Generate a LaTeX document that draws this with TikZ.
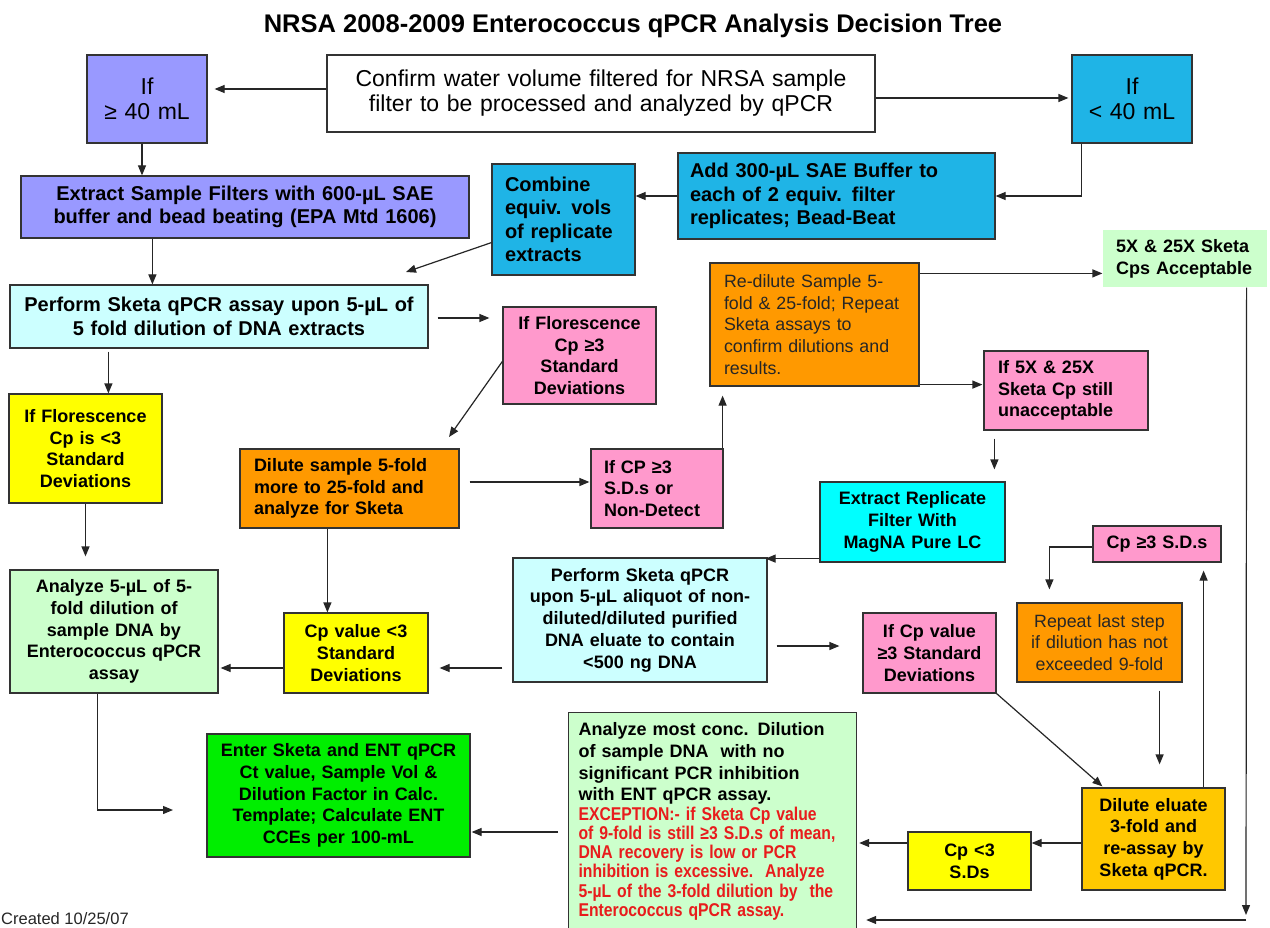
\documentclass[tikz,border=0pt]{standalone}
\usepackage{fontspec}
\setmainfont{Liberation Sans}
\newfontfamily\narrowf{Liberation Sans}[FakeStretch=0.85]
\usetikzlibrary{arrows.meta}
\definecolor{peri}{HTML}{9999FF}
\definecolor{sky}{HTML}{1FB4E6}
\definecolor{lcyan}{HTML}{CCFFFF}
\definecolor{pinkbox}{HTML}{FF99CC}
\definecolor{yel}{HTML}{FFFF00}
\definecolor{org}{HTML}{FF9900}
\definecolor{gold}{HTML}{FFC800}
\definecolor{lgreen}{HTML}{CCFFCC}
\definecolor{grn}{HTML}{00EE00}
\definecolor{cyn}{HTML}{00FFFF}
\definecolor{redtxt}{HTML}{E81C1C}
\definecolor{edge}{HTML}{333333}
\newcommand\mkbox[8]{%
 \pgfmathsetmacro\mkW{(#4)-(#2)}%
 \pgfmathsetmacro\mkH{(#5)-(#3)}%
 \pgfmathsetmacro\mkX{((#2)+(#4))/2}%
 \pgfmathsetmacro\mkY{((#3)+(#5))/2}%
 \pgfmathsetmacro\mkT{(#4)-(#2)-2*(#7)}%
 \node[box,#6,minimum width=\mkW pt,minimum height=\mkH pt,text width=\mkT pt] (#1) at (\mkX,\mkY) {#8};}
\begin{document}
\begin{tikzpicture}[x=1pt,y=-1pt,
 box/.style={draw=edge,line width=1.2pt,inner sep=0pt,text=black},
 fa/.style={font=\fontsize{20}{23.5}\selectfont\bfseries},
 fb/.style={font=\fontsize{18}{21.7}\selectfont\bfseries},
 fr/.style={font=\fontsize{17.8}{21.7}\selectfont,text=black!85},
 fbig/.style={font=\fontsize{23}{25}\selectfont},
 arr/.style={draw=black!85,line width=1.2pt,-{Triangle[length=10pt,width=8pt]}}]
\fill[white] (0,0) rectangle (1270,928);
\useasboundingbox (0,0) rectangle (1270,928);

\node[font=\fontsize{25.5}{30}\selectfont\bfseries,anchor=base] (title) at (633,33) {NRSA 2008-2009 Enterococcus qPCR Analysis Decision Tree};
\node[font=\fontsize{16.5}{18}\selectfont,text=black!85,anchor=base west,inner sep=0pt] (created) at (1,924) {Created 10/25/07};

\mkbox{b1}{87}{55}{207}{143}{fill=peri,fbig,align=center}{4}{If\\≥ 40 mL}
\mkbox{b2}{327}{55}{875}{132}{fill=white,fbig,align=center}{4}{Confirm water volume filtered for NRSA sample\\filter to be processed and analyzed by qPCR}
\mkbox{b3}{1072}{55}{1192}{143}{fill=sky,fbig,align=center}{4}{If\\< 40 mL}
\mkbox{b4}{21}{176}{469}{238}{fill=peri,fa,align=center}{4}{Extract Sample Filters with 600-µL SAE\\buffer and bead beating (EPA Mtd 1606)}
\mkbox{b5}{678}{153}{995}{239}{fill=sky,fa,align=left}{12}{Add 300-µL SAE Buffer to\\each of 2 equiv. filter\\replicates; Bead-Beat}
\mkbox{b6}{492}{164}{635}{275}{fill=sky,fa,align=left}{13}{Combine\\equiv. vols\\of replicate\\extracts}
\mkbox{b7}{10}{285}{428}{348}{fill=lcyan,fa,align=center}{4}{Perform Sketa qPCR assay upon 5-µL of\\5 fold dilution of DNA extracts}
\mkbox{b8}{503}{307}{656}{404}{fill=pinkbox,fb,align=center}{4}{If Florescence\\Cp ≥3\\Standard\\Deviations}
\mkbox{b9}{9}{394}{162}{503}{fill=yel,fb,align=center}{4}{If Florescence\\Cp is <3\\Standard\\Deviations}
\mkbox{b10}{240}{449}{459}{528}{fill=org,fb,align=left}{14}{Dilute sample 5-fold\\more to 25-fold and\\analyze for Sketa}
\mkbox{b11}{591}{449}{723}{528}{fill=pinkbox,fb,align=left}{13}{If CP ≥3\\S.D.s or\\Non-Detect}
\mkbox{b12}{710}{263}{919}{386}{fill=org,fr,align=left}{14}{Re-dilute Sample 5-\\fold \& 25-fold; Repeat\\Sketa assays to\\confirm dilutions and\\results.}
\mkbox{b13}{1103}{230}{1267}{287}{fill=lgreen,draw=none,fb,align=left}{13}{5X \& 25X Sketa\\Cps Acceptable}
\mkbox{b14}{984}{351}{1148}{430}{fill=pinkbox,fb,align=left}{14}{If 5X \& 25X\\Sketa Cp still\\unacceptable}
\mkbox{b15}{820}{482}{1005}{562}{fill=cyn,fb,align=center}{4}{Extract Replicate\\Filter With\\MagNA Pure LC}
\mkbox{b16}{513}{558}{767}{682}{fill=lcyan,fb,align=center}{4}{Perform Sketa qPCR\\upon 5-µL aliquot of non-\\diluted/diluted purified\\DNA eluate to contain\\<500 ng DNA}
\mkbox{b17}{284}{613}{428}{693}{fill=yel,fb,align=center}{4}{Cp value <3\\Standard\\Deviations}
\mkbox{b18}{10}{570}{218}{693}{fill=lgreen,fb,align=center}{4}{Analyze 5-µL of 5-\\fold dilution of\\sample DNA by\\Enterococcus qPCR\\assay}
\mkbox{b19}{207}{734}{470}{857}{fill=grn,fb,align=center}{4}{Enter Sketa and ENT qPCR\\Ct value, Sample Vol \&\\Dilution Factor in Calc.\\Template; Calculate ENT\\CCEs per 100-mL}
\node[box,fill=lgreen,fb,anchor=north west,minimum width=288pt,text width=268pt,inner xsep=10pt,inner ysep=10pt,align=left] (b20) at (568,712) {Analyze most conc. Dilution\\of sample DNA\ \ with no\\significant PCR inhibition\\with ENT qPCR assay.\par
{\color{redtxt}\narrowf\bfseries\fontsize{18.5}{19.3}\selectfont EXCEPTION:- if Sketa Cp value\\of 9-fold is still ≥3 S.D.s of mean,\\DNA recovery is low or PCR\\inhibition is excessive.\ \ Analyze\\5-µL of the 3-fold dilution by\ \ the\\Enterococcus qPCR assay.\par}};
\mkbox{b21}{863}{613}{996}{693}{fill=pinkbox,fb,align=center}{4}{If Cp value\\≥3 Standard\\Deviations}
\mkbox{b22}{1093}{526}{1221}{562}{fill=pinkbox,fb,align=center}{4}{Cp ≥3 S.D.s}
\mkbox{b23}{1017}{603}{1182}{682}{fill=org,fr,align=center}{4}{Repeat last step\\if dilution has not\\exceeded 9-fold}
\mkbox{b24}{1082}{788}{1225}{890}{fill=gold,fb,align=center}{4}{Dilute eluate\\3-fold and\\re-assay by\\Sketa qPCR.}
\mkbox{b25}{908}{832}{1031}{890}{fill=yel,fb,align=center}{4}{Cp <3\\S.Ds}

% connectors
\coordinate (p1) at ([yshift=4.5pt]b2.west);
\draw[arr,shorten >=7pt] (p1) -- (p1 -| b1.east);
\coordinate (p2) at ([yshift=-4.5pt]b2.east);
\draw[arr,shorten >=3pt] (p2) -- (p2 -| b3.west);
\coordinate (p3) at ([xshift=-5pt]b1.south);
\draw[arr] (p3) -- (p3 |- b4.north);
\coordinate (p4) at ([xshift=10pt]b3.south west);
\draw[arr] (p4) |- (b5.east);
\draw[arr] (b5.west) -- (b5.west -| b6.east);
\coordinate (p6) at ([yshift=33pt]b6.south west);
\coordinate (e6) at (406,272);
\draw[arr] (p6) -- (e6);
\coordinate (p7) at ([xshift=132pt]b4.south west);
\draw[arr] (p7) -- (p7 |- b7.north);
\coordinate (p8) at ([yshift=-1.5pt]b7.east);
\draw[arr,shorten <=9pt,shorten >=13pt] (p8) -- (p8 -| b8.west);
\coordinate (p9) at ([xshift=99pt]b7.south west);
\draw[arr,shorten <=3pt] (p9) -- (p9 |- b9.north);
\coordinate (p10) at ([yshift=-55pt]b8.north west);
\coordinate (e10) at (449,437);
\draw[arr] (p10) -- (e10);
\coordinate (p11) at ([yshift=6.5pt]b10.east);
\draw[arr,shorten <=10pt,shorten >=1pt] (p11) -- (p11 -| b11.west);
\coordinate (p12) at ([xshift=-1pt]b11.north east);
\draw[arr,shorten >=9pt] (p12) -- (p12 |- b12.south);
\coordinate (p13) at ([yshift=-11pt]b12.north east);
\draw[arr] (p13) -- (p13 -| b13.west);
\coordinate (p14) at ([yshift=2pt]b12.south east);
\draw[arr,shorten >=1pt] (p14) -- (p14 -| b14.west);
\coordinate (p15) at ([xshift=11pt]b14.south west);
\draw[arr,shorten <=8pt,shorten >=12pt] (p15) -- (p15 |- b15.north);
\coordinate (p16) at ([xshift=-21pt]b13.south east);
\coordinate (cbr) at (1246,920);
\draw[arr,shorten >=5pt] (p16) -- (cbr);
\draw[arr,shorten >=9pt] (cbr) -- (cbr -| b20.east);
\coordinate (p17) at ([yshift=4pt]b15.south west);
\draw[arr,shorten >=-2pt] (p17) -- (p17 -| b16.east);
\coordinate (p18) at ([yshift=-48pt]b16.west);
\draw[arr,shorten <=10pt,shorten >=11pt] (p18) -- (p18 -| b17.east);
\coordinate (p19) at ([xshift=88pt]b10.south west);
\draw[arr] (p19) -- (p19 |- b17.north);
\coordinate (p20) at ([yshift=-15pt]b17.west);
\draw[arr,shorten >=2pt] (p20) -- (p20 -| b18.east);
\draw[arr,shorten >=13pt] (b9.south) -- (b9.south |- b18.north);
\coordinate (p22) at ([xshift=88pt]b18.south west);
\coordinate (e22) at (173,810);
\draw[arr] (p22) |- (e22);
\coordinate (p23) at ([yshift=-120pt]b20.north west);
\draw[arr,shorten <=10pt,shorten >=1pt] (p23) -- (p23 -| b19.east);
\coordinate (p24) at ([yshift=-26pt]b16.east);
\draw[arr,shorten <=9pt,shorten >=23pt] (p24) -- (p24 -| b21.west);
\coordinate (e25) at ([xshift=21pt,yshift=1pt]b24.north west);
\draw[arr] (b21.south east) -- (e25);
\coordinate (p26) at ([yshift=-3pt]b22.west);
\coordinate (q26) at ([xshift=33pt]b23.north west);
\draw[arr,shorten >=13pt] (p26) -| (q26);
\coordinate (p27) at ([xshift=-23pt]b23.south east);
\draw[arr,shorten <=8pt,shorten >=23pt] (p27) -- (p27 |- b24.north);
\coordinate (p28) at ([xshift=-22pt]b24.north east);
\draw[arr,shorten >=8pt] (p28) -- (p28 |- b22.south);
\coordinate (p29) at ([yshift=-4pt]b24.west);
\draw[arr] (p29) -- (p29 -| b25.east);
\coordinate (p30) at ([yshift=18pt]b25.west);
\draw[arr,shorten >=2pt] (p30) -- (p30 -| b20.east);
\end{tikzpicture}
\end{document}
